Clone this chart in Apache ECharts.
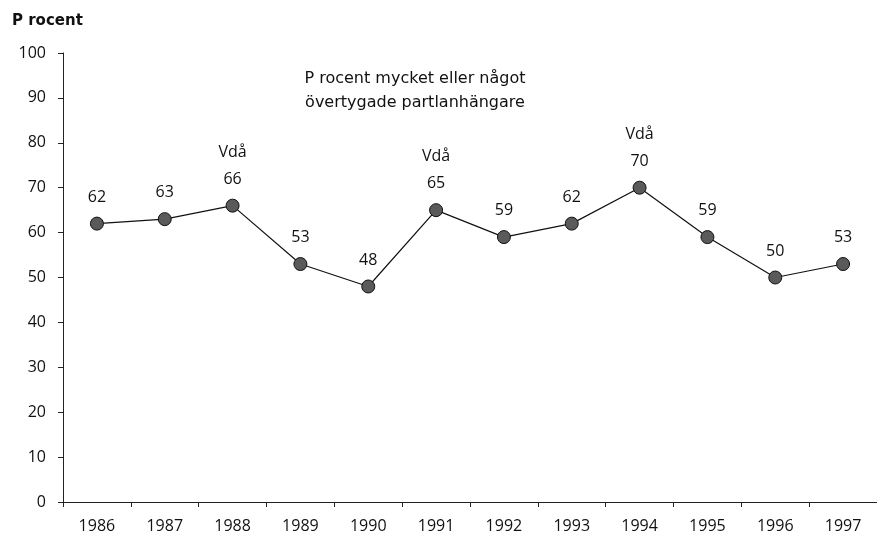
<!DOCTYPE html>
<html><head><meta charset="utf-8">
<script src="https://cdn.jsdelivr.net/npm/echarts@6/dist/echarts.min.js"></script>
<style>html,body{margin:0;padding:0;background:#fff}#c{width:877px;height:536px}</style>
</head><body><div id="c"></div>
<script>
const years = ['1986','1987','1988','1989','1990','1991','1992','1993','1994','1995','1996','1997'];
const values = [62, 63, 66, 53, 48, 65, 59, 62, 70, 59, 50, 53];
const notes = ['', '', 'Vdå', '', '', 'Vdå', '', '', 'Vdå', '', '', ''];
const yTicks = [0, 10, 20, 30, 40, 50, 60, 70, 80, 90, 100];
const FONT = '"Open Sans", "Noto Sans", sans-serif';
const WIDE = '"DejaVu Sans", "Open Sans", sans-serif';

const chart = echarts.init(document.getElementById('c'));
chart.setOption({
  backgroundColor: '#fff',
  animation: false,
  title: [
    { text: 'P rocent', left: 7, top: 9, textStyle: { fontFamily: WIDE, fontSize: 15, fontWeight: 'bold', color: '#111' } },
    { text: 'P rocent mycket eller något\növertygade partlanhängare', left: 410, top: 62, textAlign: 'center',
      textStyle: { fontFamily: WIDE, fontSize: 16, fontWeight: 'normal', color: '#111', lineHeight: 24, align: 'center' } }
  ],
  grid: { left: 63, top: 53, width: 820, height: 449, containLabel: false },
  xAxis: {
    type: 'category', data: years, boundaryGap: true,
    axisLine: { lineStyle: { color: '#222', width: 1 } },
    axisTick: { show: true, inside: false, length: 5, lineStyle: { color: '#222' } },
    axisLabel: { fontFamily: FONT, fontSize: 16, color: '#111', margin: 16 },
    splitLine: { show: false }
  },
  yAxis: {
    type: 'value', min: yTicks[0], max: yTicks[yTicks.length - 1], interval: 10,
    axisLine: { show: true, lineStyle: { color: '#222', width: 1 } },
    axisTick: { show: true, length: 5, lineStyle: { color: '#222' } },
    axisLabel: { fontFamily: FONT, fontSize: 16, color: '#111', margin: 17 },
    splitLine: { show: false }
  },
  series: [{
    type: 'line',
    data: values.map((v, i) => ({ value: v, note: notes[i] })),
    symbol: 'circle', symbolSize: 13,
    lineStyle: { color: '#111', width: 1.2 },
    itemStyle: { color: '#5a5a5a', borderColor: '#111', borderWidth: 1 },
    label: {
      show: true, position: 'top', distance: 6,
      fontFamily: FONT, fontSize: 16, color: '#111', lineHeight: 27, align: 'center',
      formatter: p => (notes[p.dataIndex] ? notes[p.dataIndex] + '\n' : '') + p.value
    }
  }]
});
</script></body></html>
